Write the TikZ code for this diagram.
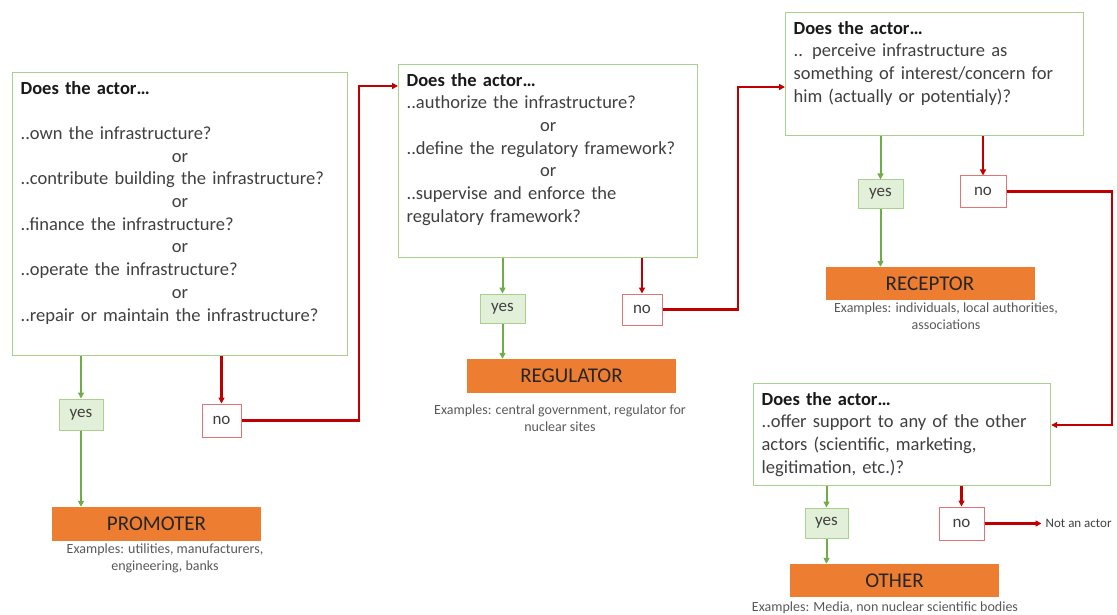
\documentclass[tikz,border=0pt]{standalone}
\usepackage{fontspec}
\setmainfont{Carlito}
\usetikzlibrary{arrows.meta,positioning}

\definecolor{qgreen}{HTML}{A9D18E}
\definecolor{yesfill}{HTML}{E2F0D9}
\definecolor{linegreen}{HTML}{70AD47}
\definecolor{linered}{HTML}{C00000}
\definecolor{nopink}{HTML}{E57373}
\definecolor{roleorange}{HTML}{ED7D31}
\definecolor{textgray}{HTML}{404040}
\definecolor{exgray}{HTML}{595959}

\newcommand{\asktitle}{\textbf{\color{black!90}Does the actor…}}
\newcommand{\orline}{\\\makebox[\linewidth]{or}\\}

\tikzset{
  question/.style={draw=qgreen, line width=1.2pt, fill=white, anchor=north west,
    inner sep=8pt, text height=13.5pt, align=left, text=textgray,
    font=\fontsize{18.5pt}{22.7pt}\selectfont},
  yesbox/.style={draw=qgreen, fill=yesfill, line width=1pt, inner sep=0pt,
    text=textgray, font=\fontsize{17pt}{20pt}\selectfont},
  nobox/.style={draw=nopink, fill=white, line width=1pt, inner sep=0pt,
    text=textgray, font=\fontsize{17pt}{20pt}\selectfont},
  role/.style={fill=roleorange, minimum width=209pt, minimum height=34pt,
    inner sep=0pt, text=black!85, font=\fontsize{21pt}{24pt}\selectfont},
  examples/.style={align=center, inner sep=0pt, anchor=north, text=exgray,
    font=\fontsize{14pt}{17pt}\selectfont},
  endnote/.style={inner sep=4pt, text=textgray, font=\fontsize{13pt}{15pt}\selectfont},
  yesline/.style={draw=linegreen, line width=2pt, -{Triangle[length=6pt,width=6pt]}},
  noline/.style={draw=linered, line width=2.4pt, -{Triangle[length=6pt,width=6pt]}}
}

\begin{document}
\begin{tikzpicture}[x=1pt,y=-1pt]
\useasboundingbox (0,0) rectangle (1117,615);

% questions
\node[question, text width=319pt, text depth=253.5pt] (owner) at (12,72) {\asktitle\\
  \mbox{}\\
  ..own the infrastructure?\orline
  ..contribute building the infrastructure?\orline
  ..finance the infrastructure?\orline
  ..operate the infrastructure?\orline
  ..repair or maintain the infrastructure?};
\node[question, text width=283pt, text depth=163.5pt] (rules) at (398,64) {\asktitle\\
  ..authorize the infrastructure?\orline
  ..define the regulatory framework?\orline
  ..supervise and enforce the\\
  regulatory framework?};
\node[question, text width=282pt, text depth=93.5pt] (concern) at (785,12) {\asktitle\\
  .. perceive infrastructure as\\
  something of interest/concern for\\
  him (actually or potentialy)?};
\node[question, text width=281pt, text depth=72pt] (support) at (753,383) {\asktitle\\
  ..offer support to any of the other\\
  actors (scientific, marketing,\\
  legitimation, etc.)?};

% answers
\node[yesbox, minimum width=44pt, minimum height=31pt] (yes1) at (81,414.5) {yes};
\node[nobox, minimum width=39pt, minimum height=33pt] (no1) at (221.5,420.5) {no};
\node[yesbox, minimum width=45pt, minimum height=29pt] (yes2) at (502.5,308.5) {yes};
\node[nobox, minimum width=40pt, minimum height=31pt] (no2) at (642,309.5) {no};
\node[yesbox, minimum width=45pt, minimum height=28pt] (yes3) at (880.5,194) {yes};
\node[nobox, minimum width=46pt, minimum height=31pt] (no3) at (983,191.5) {no};
\node[yesbox, minimum width=43pt, minimum height=30pt] (yes4) at (826.5,523) {yes};
\node[nobox, minimum width=45pt, minimum height=33pt] (no4) at (961.5,523.5) {no};

% roles
\node[role] (promoter) at (156.5,524) {PROMOTER};
\node[role] (regulator) at (571.5,376) {REGULATOR};
\node[role, minimum height=33pt] (receptor) at (930,283.5) {RECEPTOR};
\node[role, minimum height=33pt] (other) at (894.5,580.5) {OTHER};

\node[examples] (promoterex) at (165,543.5) {Examples: utilities, manufacturers,\\engineering, banks};
\node[examples] (regulatorex) at (560,404.5) {Examples: central government, regulator for\\nuclear sites};
\node[examples] (receptorex) at (946,302.5) {Examples: individuals, local authorities,\\associations};
\node[examples] (otherex) at (885,601.5) {Examples: Media, non nuclear scientific bodies};
\node[endnote] (notactor) [right=57pt of no4] {Not an actor};

% bends of the red lines
\coordinate (bend1) at (359,86);
\coordinate (bend2) at (738,87);
\coordinate (bend3) at (1112,425);

% yes branches
\draw[yesline] (owner.south -| yes1) -- (yes1);
\draw[yesline] (yes1) -- (yes1 |- promoter.north);
\draw[yesline] (rules.south -| yes2) -- (yes2);
\draw[yesline] (yes2) -- (yes2 |- regulator.north);
\draw[yesline] (concern.south -| yes3) -- (yes3);
\draw[yesline] (yes3) -- (yes3 |- receptor.north);
\draw[yesline] (support.south -| yes4) -- (yes4);
\draw[yesline] (yes4) -- (yes4 |- other.north);

% no branches
\draw[noline] (owner.south -| no1) -- (no1);
\draw[noline] (no1) -| (bend1) -- (bend1 -| rules.west);
\draw[noline] (rules.south -| no2) -- (no2);
\draw[noline] (no2) -| (bend2) -- (bend2 -| concern.west);
\draw[noline] (concern.south -| no3) -- (no3);
\draw[noline] (no3) -| (bend3) -- (bend3 -| support.east);
\draw[noline] (support.south -| no4) -- (no4);
\draw[noline] (no4) -- (notactor);
\end{tikzpicture}
\end{document}
